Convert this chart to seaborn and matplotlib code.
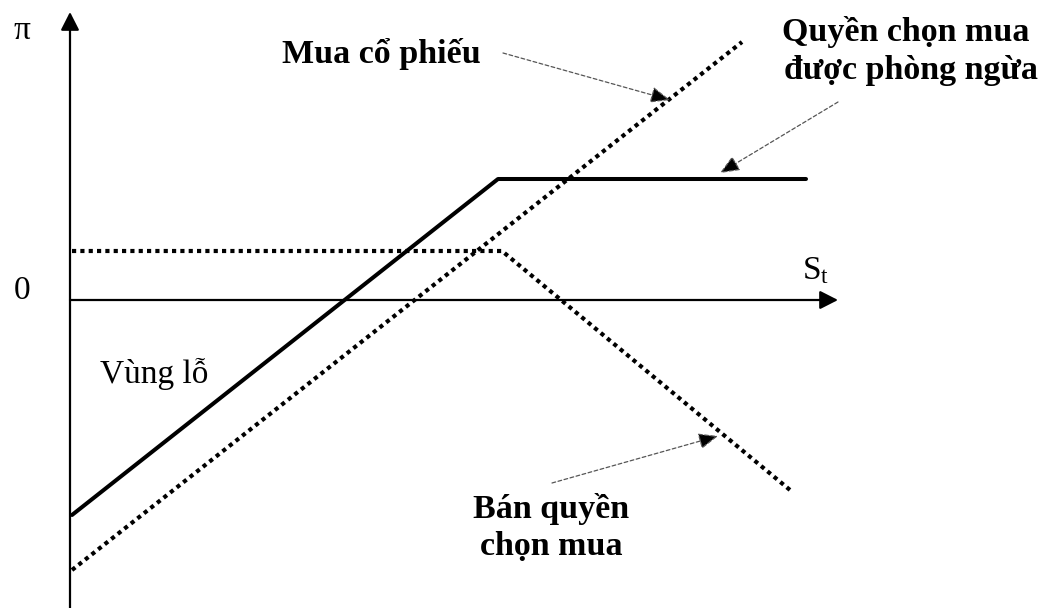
import matplotlib
matplotlib.use("Agg")
import matplotlib.pyplot as plt
import seaborn as sns
import pandas as pd

# Payoff data (x = S_t, y = profit pi)
covered_S = [0.2, 42.8, 73.6]
covered_pi = [-21.5, 12.1, 12.1]
stock_S = [0.2, 67.2]
stock_pi = [-27.0, 25.8]
short_S = [0.2, 43.2, 72.0]
short_pi = [4.9, 4.9, -19.0]

label_stock = "Mua cổ phiếu"
label_covered = ["Quyền chọn mua", "được phòng ngừa"]
label_short = ["Bán quyền", "chọn mua"]
label_loss = "Vùng lỗ"

sns.set_style("white")
plt.rcParams["font.family"] = ["Liberation Serif", "DejaVu Serif"]
plt.rcParams["text.color"] = "black"
plt.rcParams["mathtext.fontset"] = "custom"
plt.rcParams["mathtext.rm"] = "Liberation Serif"
plt.rcParams["mathtext.it"] = "Liberation Serif"

fig = plt.figure(figsize=(10.49, 6.08), dpi=100)
ax = fig.add_axes([0, 0, 1, 1])
ax.set_xlim(-7.0, 97.9)
ax.set_ylim(-30.8, 30.0)
ax.axis("off")

dot = (0, (1, 1))
sns.lineplot(x=covered_S, y=covered_pi, ax=ax, color="black", lw=2.9,
             sort=False, estimator=None)
sns.lineplot(x=stock_S, y=stock_pi, ax=ax, color="black", lw=3.0,
             linestyle=dot, sort=False, estimator=None)
sns.lineplot(x=short_S, y=short_pi, ax=ax, color="black", lw=3.0,
             linestyle=dot, sort=False, estimator=None)

# axes with arrowheads
axis_arrow = dict(arrowstyle="-|>,head_length=0.55,head_width=0.28",
                  mutation_scale=20, lw=1.6, color="black",
                  shrinkA=0, shrinkB=0)
ax.annotate("", xy=(0, 28.8), xytext=(0, -31.0), arrowprops=axis_arrow)
ax.annotate("", xy=(76.8, 0), xytext=(0, 0), arrowprops=axis_arrow)

# pointer arrows
ptr = dict(arrowstyle="-|>,head_length=0.6,head_width=0.25",
           mutation_scale=20, lw=0.9, linestyle=(0, (3, 2)),
           ec="#555555", fc="black", shrinkA=0, shrinkB=0)
ax.annotate("", xy=(60.0, 20.0), xytext=(43.3, 24.7), arrowprops=ptr)
ax.annotate("", xy=(65.0, 12.7), xytext=(76.8, 19.8), arrowprops=ptr)
ax.annotate("", xy=(64.8, -13.6), xytext=(48.2, -18.3), arrowprops=ptr)

fs = 24.5
fr = 24
ax.text(21.2, 23.7, label_stock, fontsize=fs, fontweight="bold",
        ha="left", va="baseline")
ax.text(83.6, 25.9, label_covered[0], fontsize=fs, fontweight="bold",
        ha="center", va="baseline")
ax.text(84.1, 22.1, label_covered[1], fontsize=fs, fontweight="bold",
        ha="center", va="baseline")
ax.text(48.1, -21.8, label_short[0], fontsize=fs, fontweight="bold",
        ha="center", va="baseline")
ax.text(48.1, -25.5, label_short[1], fontsize=fs, fontweight="bold",
        ha="center", va="baseline")
ax.text(3.0, -8.3, label_loss, fontsize=fr, ha="left", va="baseline")
ax.text(-4.8, 0.9, "0", fontsize=fr, ha="center", va="center")
ax.text(-4.8, 26.9, "π", fontsize=fr, ha="center", va="center")
ax.text(73.2, 2.1, r"$\mathrm{S}_\mathrm{t}$", fontsize=fr, ha="left", va="baseline")

fig.savefig("out.png", dpi=100)
